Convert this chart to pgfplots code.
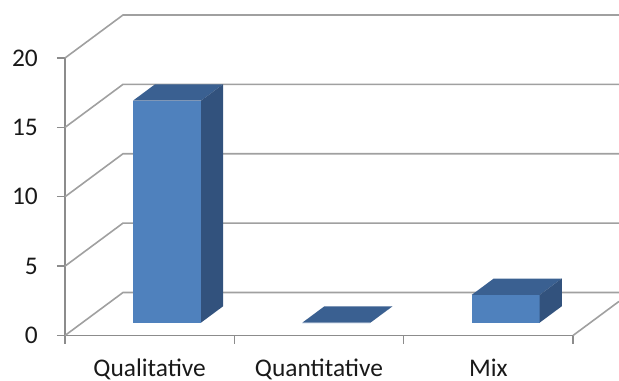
\documentclass[border=0pt]{standalone}
\usepackage{pgfplots}
\pgfplotsset{compat=1.18}
\usepackage{pgfplotstable}
\usepackage{fontspec}
\setmainfont{Carlito}
\definecolor{barfront}{HTML}{4F81BD}
\definecolor{bartop}{HTML}{3A6091}
\definecolor{barside}{HTML}{32527D}
\definecolor{gridgray}{HTML}{A0A0A0}
\definecolor{axisgray}{HTML}{8C8C8C}

\pgfplotstableread{
x v
0 16
1 0
2 2
}\bardata

\newcommand\cuboid[2]{%
  \pgfmathsetmacro\xl{#1+0.1028-0.2008}%
  \pgfmathsetmacro\xr{#1+0.1028+0.2008}%
  \pgfmathsetmacro\xlb{\xl+0.1301}%
  \pgfmathsetmacro\xrb{\xr+0.1301}%
  \pgfmathsetmacro\ytf{#2+0.930}%
  \pgfmathsetmacro\ytb{#2+2.107}%
  \edef\doplot{%
    \noexpand\addplot[fill=barfront,draw=none] coordinates {(\xl,0.930) (\xr,0.930) (\xr,\ytf) (\xl,\ytf)};
    \noexpand\addplot[fill=bartop,draw=none] coordinates {(\xl,\ytf) (\xr,\ytf) (\xrb,\ytb) (\xlb,\ytb)};
    \noexpand\addplot[fill=barside,draw=none] coordinates {(\xr,0.930) (\xrb,2.107) (\xrb,\ytb) (\xr,\ytf)};
  }%
  \doplot
}

\begin{document}
\begin{tikzpicture}
\path[use as bounding box] (-65bp,-45.5bp) rectangle (554bp,335.5bp);
\begin{axis}[
  at={(0,0)}, anchor=south west,
  scale only axis,
  width=508bp, height=277.5bp,
  xmin=-0.5, xmax=2.5, ymin=0, ymax=20,
  clip=false,
  axis x line*=bottom, axis y line*=left,
  axis line style={draw=axisgray, line width=1.5bp},
  tick align=outside,
  ytick={0,5,10,15,20},
  xtick={0,1,2},
  xticklabels={Qualitative,Quantitative,Mix},
  minor xtick={-0.5,0.5,1.5,2.5},
  major tick length=8bp, minor tick length=8bp,
  xtick style={draw=none},
  minor x tick style={draw=axisgray, line width=1.5bp},
  ytick style={draw=axisgray, line width=1.5bp},
  /pgf/number format/assume math mode=true,
  ticklabel style={font=\fontsize{25.5}{30}\selectfont, text=black!90},
  yticklabel style={anchor=east, inner sep=0pt, xshift=-19bp},
  xticklabel style={anchor=base, inner sep=0pt, yshift=-33bp},
]
% left wall and back wall gridlines
\addplot[draw=gridgray, line width=1.6bp] coordinates {(-0.5,0) (-0.1575,3.099) (2.7717,3.099)};
\addplot[draw=gridgray, line width=1.6bp] coordinates {(-0.5,5) (-0.1575,8.099) (2.7717,8.099)};
\addplot[draw=gridgray, line width=1.6bp] coordinates {(-0.5,10) (-0.1575,13.099) (2.7717,13.099)};
\addplot[draw=gridgray, line width=1.6bp] coordinates {(-0.5,15) (-0.1575,18.099) (2.7717,18.099)};
\addplot[draw=gridgray, line width=1.6bp] coordinates {(-0.5,20) (-0.1575,23.099) (2.7717,23.099)};
% floor right edge
\addplot[draw=gridgray, line width=1.6bp] coordinates {(2.5,0) (2.7717,2.458)};
% bars
\pgfplotsforeachungrouped \i in {0,1,2}{%
  \pgfplotstablegetelem{\i}{v}\of\bardata
  \edef\val{\pgfplotsretval}%
  \cuboid{\i}{\val}%
}
\end{axis}
\end{tikzpicture}
\end{document}
